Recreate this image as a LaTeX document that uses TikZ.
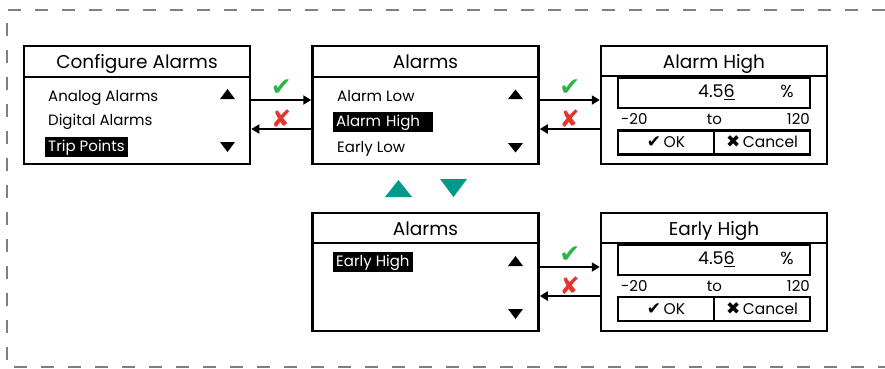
\documentclass[tikz,border=0pt]{standalone}
\usepackage{fontspec}
\setmainfont{Poppins}
\newfontfamily\symfont{DejaVu Sans}
\usetikzlibrary{arrows.meta}
\definecolor{okgreen}{HTML}{2DB34A}
\definecolor{nored}{HTML}{E5352F}
\definecolor{tealtri}{HTML}{00998A}
\definecolor{dashgray}{HTML}{7F7F7F}
\newcommand\ulmark[1]{\setbox0\hbox{#1}\rlap{\rule[-3pt]{\wd0}{1.4pt}}\box0}
\newcommand\btnsym{\symfont\fontsize{17}{19}\selectfont}
\begin{document}
\begin{tikzpicture}[x=1pt,y=-1pt,
  screen/.style={draw,line width=2.5pt,minimum width=226pt,minimum height=118pt,inner sep=0pt},
  sepline/.style={line width=2.5pt},
  field/.style={draw,line width=2.2pt,inner sep=0pt},
  ttl/.style={font=\fontsize{18.5}{20}\selectfont,anchor=base,inner sep=0pt},
  item/.style={font=\fontsize{15}{17}\selectfont,anchor=base west,inner sep=0pt},
  sel/.style={item,fill=black,text=white,inner xsep=3pt,inner ysep=2pt,text height=12.5pt,text depth=3.5pt},
  valtxt/.style={font=\fontsize{17.5}{19}\selectfont,inner sep=0pt},
  rngtxt/.style={font=\fontsize{15}{17}\selectfont,inner sep=0pt},
  btn/.style={field,minimum width=96pt,minimum height=24pt,font=\fontsize{15.5}{17}\selectfont,text height=10.5pt,text depth=0pt},
  arr/.style={line width=2pt,-{Triangle[length=8pt,width=9pt]}},
  yes/.style={text=okgreen,font=\symfont\fontsize{25}{27}\selectfont,inner sep=0pt},
  no/.style={text=nored,font=\symfont\fontsize{24}{26}\selectfont,inner sep=0pt},
  tri/.style={fill=black},
  ttri/.style={fill=tealtri},
]
\useasboundingbox (0,0) rectangle (885,368);
% dashed frame
\draw[dashgray,line width=2.5pt,dash pattern=on 13pt off 14pt] (885,10) -- (7,10) -- (7,367) -- (885,367);

% ---------- screen 1: Configure Alarms
\node[screen] (b1) at (137,105) {};
\draw[sepline] ([yshift=-32pt]b1.north west) -- ([yshift=-32pt]b1.north east);
\node[ttl] (t1) at (137,68.3) {Configure Alarms};
\node[item] (i11) at (48,101) {Analog Alarms};
\node[item] (i12) at (48,125.7) {Digital Alarms};
\node[sel] (i13) at (45,151.7) {Trip Points};
\fill[tri] (220,99) -- (235,99) -- (227.5,89) -- cycle;
\fill[tri] (220,142) -- (235,142) -- (227.5,152) -- cycle;

% ---------- screen 2: Alarms
\node[screen] (b2) at (425.5,105) {};
\draw[sepline] ([yshift=-32pt]b2.north west) -- ([yshift=-32pt]b2.north east);
\node[ttl] (t2) at (425.5,68.3) {Alarms};
\node[item] (i21) at (337,101) {Alarm Low};
\node[sel,text width=94pt,align=left] (i22) at (333,126) {Alarm High};
\node[item] (i23) at (337,152) {Early Low};
\fill[tri] (508,99) -- (523,99) -- (515.5,89.5) -- cycle;
\fill[tri] (508,143) -- (523,143) -- (515.5,152.5) -- cycle;

% ---------- screen 3: Alarm High
\node[screen] (b3) at (714,105) {};
\draw[sepline] ([yshift=-31pt]b3.north west) -- ([yshift=-31pt]b3.north east);
\node[ttl] (t3) at (714,68.3) {Alarm High};
\node[field,minimum width=192pt,minimum height=30pt] (v3) at (714,93) {};
\node[valtxt,anchor=base east] (n3) at (735,97.3) {4.5\ulmark{6}};
\node[valtxt,anchor=base] (p3) at (787,97.3) {\%};
\node[rngtxt,anchor=base west] (lo3) at (621,124.3) {-20};
\node[rngtxt,anchor=base] (to3) at (714.5,124.3) {to};
\node[rngtxt,anchor=base east] (hi3) at (810,124.3) {120};
\node[btn] (ok3) at (666,142.5) {{\btnsym ✔}\,OK};
\node[btn] (cn3) at (762,142.5) {{\btnsym ✖}\,Cancel};

% ---------- screen 4: Alarms (Early High)
\node[screen] (b4) at (425.5,272) {};
\draw[sepline] ([yshift=-31pt]b4.north west) -- ([yshift=-31pt]b4.north east);
\node[ttl] (t4) at (425.5,235) {Alarms};
\node[sel] (i41) at (333,266.7) {Early High};
\fill[tri] (508,266) -- (523,266) -- (515.5,256) -- cycle;
\fill[tri] (508,309) -- (523,309) -- (515.5,319) -- cycle;

% ---------- screen 5: Early High
\node[screen] (b5) at (714,272) {};
\draw[sepline] ([yshift=-31pt]b5.north west) -- ([yshift=-31pt]b5.north east);
\node[ttl] (t5) at (714,235) {Early High};
\node[field,minimum width=192pt,minimum height=30pt] (v5) at (714,260) {};
\node[valtxt,anchor=base east] (n5) at (735,264.3) {4.5\ulmark{6}};
\node[valtxt,anchor=base] (p5) at (787,264.3) {\%};
\node[rngtxt,anchor=base west] (lo5) at (621,291.5) {-20};
\node[rngtxt,anchor=base] (to5) at (714.5,291.5) {to};
\node[rngtxt,anchor=base east] (hi5) at (810,291.5) {120};
\node[btn] (ok5) at (666,309) {{\btnsym ✔}\,OK};
\node[btn] (cn5) at (762,309) {{\btnsym ✖}\,Cancel};

% ---------- teal navigation triangles
\fill[ttri] (385,197) -- (412,197) -- (398.5,180) -- cycle;
\fill[ttri] (440,179) -- (467,179) -- (453.5,197) -- cycle;

% ---------- connectors
\draw[arr] ([yshift=5pt]b1.east) -- node[yes,yshift=12pt]{✔} ([yshift=5pt]b2.west);
\draw[arr] ([yshift=-24pt]b2.west) -- node[no,yshift=10pt]{✘} ([yshift=-24pt]b1.east);
\draw[arr] ([yshift=5pt]b2.east) -- node[yes,yshift=12pt]{✔} ([yshift=5pt]b3.west);
\draw[arr] ([yshift=-24pt]b3.west) -- node[no,yshift=10pt]{✘} ([yshift=-24pt]b2.east);
\draw[arr] ([yshift=5pt]b4.east) -- node[yes,yshift=12pt]{✔} ([yshift=5pt]b5.west);
\draw[arr] ([yshift=-24pt]b5.west) -- node[no,yshift=10pt]{✘} ([yshift=-24pt]b4.east);
\end{tikzpicture}
\end{document}
